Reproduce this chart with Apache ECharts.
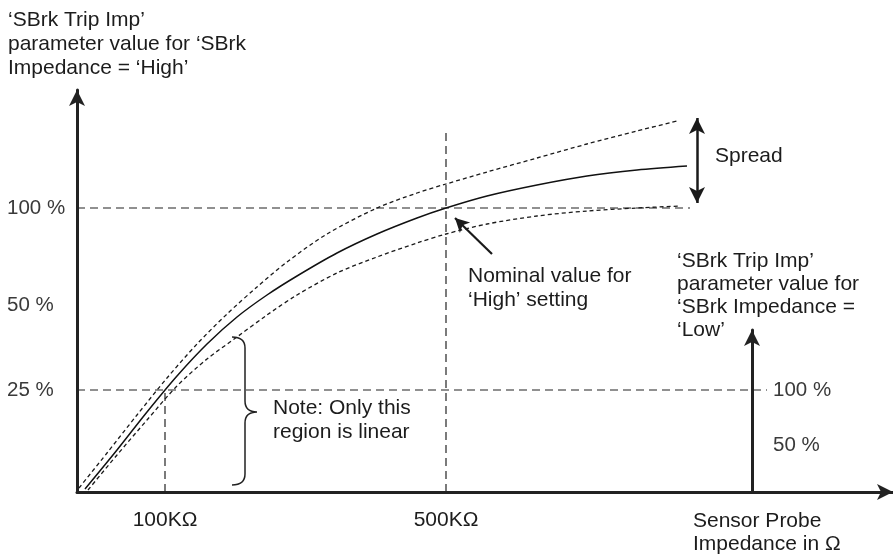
<!DOCTYPE html>
<html>
<head>
<meta charset="utf-8">
<script src="https://cdn.jsdelivr.net/npm/echarts@6/dist/echarts.min.js"></script>
<style>
html,body{margin:0;padding:0;background:#fff;}
#c{width:893px;height:555px;}
</style>
</head>
<body>
<div id="c"></div>
<script>
// Diagram units: x = horizontal distance from the y-axis, y = height above the x-axis (schematic, not to scale)
const xTickValues = [88, 369];
const xTickLabels = ['100KΩ', '500KΩ'];
const yTickValues = [284, 187, 102];
const yTickLabels = ['100 %', '50 %', '25 %'];
const lowTickValues = [102, 47];
const lowTickLabels = ['100 %', '50 %'];

const nominalX = [8, 40, 70, 100, 130, 160, 190, 220, 260, 300, 340, 369, 410, 460, 510, 560, 610];
const nominalY = [3, 42, 80, 116, 148, 175, 197, 216, 239, 258, 274, 284, 296, 307, 316, 322, 326];
const upperX = [2, 30, 60, 90, 120, 150, 180, 210, 250, 300, 340, 369, 410, 460, 510, 560, 600];
const upperY = [4, 39, 77, 114, 148, 178, 205, 230, 258, 284, 299, 308, 320, 334, 348, 361, 371];
const lowerX = [11, 40, 70, 100, 130, 160, 190, 220, 260, 300, 340, 369, 410, 460, 510, 560, 603];
const lowerY = [2, 37, 72, 106, 133, 155, 177, 197, 219, 235, 249, 258, 268, 276, 281, 284, 286];

// guide lines [x1, y1, x2, y2]
const guide100 = [0, 284, 613, 284];
const guide25 = [0, 102, 690, 102];
const guide100K = [88, 0, 88, 102];
const guide500K = [369, 0, 369, 362];

// annotation arrows [x1, y1, x2, y2]
const spreadArrow = [620, 289, 620, 374];
const nominalArrow = [415, 238, 378, 274];

// brace: [x of spine, x of curled ends, x of tip, y bottom, y middle, y top]
const brace = [168, 155, 180, 7, 80, 155];

const zip = (xs, ys) => xs.map((x, i) => [x, ys[i]]);
const seg = s => [[s[0], s[1]], [s[2], s[3]]];

const FONT = '"Liberation Sans", Arial, sans-serif';
const INK = '#1c1c1c';

const dashedGuide = { type: [8, 5], width: 1.2, color: '#222' };
const dashedCurve = { type: [4, 3], width: 1.3, color: '#1a1a1a' };

function guideSeries(s) {
  return { type: 'line', data: seg(s), symbol: 'none', lineStyle: dashedGuide, silent: true, z: 1 };
}
function curveSeries(xs, ys, style, z) {
  return { type: 'line', data: zip(xs, ys), smooth: 0.3, symbol: 'none', lineStyle: style, silent: true, z: z };
}

const chart = echarts.init(document.getElementById('c'));
chart.setOption({
  animation: false,
  backgroundColor: '#fff',
  grid: [
    { left: 77, top: 90, right: 0, bottom: 63 },
    { left: 752, top: 330, width: 10, bottom: 63 }
  ],
  xAxis: [
    {
      type: 'value', min: 0, max: 816, gridIndex: 0,
      axisLine: { show: true, lineStyle: { color: '#222', width: 3 }, symbol: ['none', 'arrow'], symbolSize: [12, 16] },
      axisTick: { show: false },
      splitLine: { show: false },
      axisLabel: {
        show: true, customValues: xTickValues, margin: 18,
        formatter: v => xTickLabels[xTickValues.indexOf(v)] || '',
        fontFamily: FONT, fontSize: 21, color: INK
      }
    },
    { type: 'value', min: 0, max: 1, gridIndex: 1, show: false }
  ],
  yAxis: [
    {
      type: 'value', min: 0, max: 402, gridIndex: 0,
      axisLine: { show: true, lineStyle: { color: '#222', width: 3 }, symbol: ['none', 'arrow'], symbolSize: [12, 16] },
      axisTick: { show: false },
      splitLine: { show: false },
      axisLabel: {
        show: true, customValues: yTickValues, margin: 70, align: 'left',
        formatter: v => yTickLabels[yTickValues.indexOf(v)] || '',
        fontFamily: FONT, fontSize: 20.5, color: '#3a3a3a'
      }
    },
    {
      type: 'value', min: 0, max: 162, gridIndex: 1,
      axisLine: { show: true, onZero: false, lineStyle: { color: '#222', width: 3 }, symbol: ['none', 'arrow'], symbolSize: [12, 16] },
      axisTick: { show: false },
      splitLine: { show: false },
      axisLabel: {
        show: true, inside: true, customValues: lowTickValues, margin: 21,
        formatter: v => lowTickLabels[lowTickValues.indexOf(v)] || '',
        fontFamily: FONT, fontSize: 20.5, color: '#3a3a3a'
      }
    }
  ],
  series: [
    guideSeries(guide100),
    guideSeries(guide25),
    guideSeries(guide100K),
    guideSeries(guide500K),
    curveSeries(upperX, upperY, dashedCurve, 2),
    curveSeries(lowerX, lowerY, dashedCurve, 2),
    curveSeries(nominalX, nominalY, { type: 'solid', width: 1.5, color: '#111' }, 3),
    {
      type: 'line', data: [], silent: true,
      markLine: {
        silent: true, animation: false,
        symbol: ['arrow', 'arrow'], symbolSize: [12, 16],
        label: { show: false },
        lineStyle: { type: 'solid', width: 2.5, color: '#1a1a1a' },
        data: [[{ coord: [spreadArrow[0], spreadArrow[1]] }, { coord: [spreadArrow[2], spreadArrow[3]] }]]
      }
    },
    {
      type: 'line', data: [], silent: true,
      markLine: {
        silent: true, animation: false,
        symbol: ['none', 'arrow'], symbolSize: [11, 14],
        label: { show: false },
        lineStyle: { type: 'solid', width: 2.2, color: '#1a1a1a' },
        data: [[{ coord: [nominalArrow[0], nominalArrow[1]] }, { coord: [nominalArrow[2], nominalArrow[3]] }]]
      }
    },
    {
      type: 'custom', silent: true, data: [[brace[0], brace[4]]],
      renderItem: function (params, api) {
        const [xs, xe, xt, yb, ym, yt] = brace;
        const S = api.coord([xs, yt]), E = api.coord([xe, yt]), T = api.coord([xt, ym]);
        const B = api.coord([xs, yb]), M = api.coord([xs, ym]), EB = api.coord([xe, yb]);
        const r = 11;
        const d = 'M' + E[0] + ',' + E[1] +
          ' Q' + S[0] + ',' + S[1] + ' ' + S[0] + ',' + (S[1] + r) +
          ' L' + M[0] + ',' + (M[1] - r) +
          ' Q' + M[0] + ',' + M[1] + ' ' + T[0] + ',' + T[1] +
          ' Q' + M[0] + ',' + M[1] + ' ' + M[0] + ',' + (M[1] + r) +
          ' L' + B[0] + ',' + (B[1] - r) +
          ' Q' + B[0] + ',' + B[1] + ' ' + EB[0] + ',' + EB[1];
        return { type: 'path', shape: { pathData: d }, style: { fill: null, stroke: '#222', lineWidth: 1.5 } };
      },
      z: 3
    }
  ],
  graphic: [
    { type: 'text', left: 8, top: 8, style: { text: '‘SBrk Trip Imp’\nparameter value for ‘SBrk\nImpedance = ‘High’', font: '21px ' + FONT, fill: INK, lineHeight: 24 } },
    { type: 'text', left: 715, top: 146, style: { text: 'Spread', font: '21px ' + FONT, fill: INK } },
    { type: 'text', left: 468, top: 264, style: { text: 'Nominal value for\n‘High’ setting', font: '21px ' + FONT, fill: INK, lineHeight: 24 } },
    { type: 'text', left: 273, top: 396, style: { text: 'Note: Only this\nregion is linear', font: '21px ' + FONT, fill: INK, lineHeight: 24 } },
    { type: 'text', left: 677, top: 250, style: { text: '‘SBrk Trip Imp’\nparameter value for\n‘SBrk Impedance =\n‘Low’', font: '21px ' + FONT, fill: INK, lineHeight: 23 } },
    { type: 'text', left: 693, top: 510, style: { text: 'Sensor Probe\nImpedance in Ω', font: '21px ' + FONT, fill: INK, lineHeight: 23 } }
  ]
});
</script>
</body>
</html>
